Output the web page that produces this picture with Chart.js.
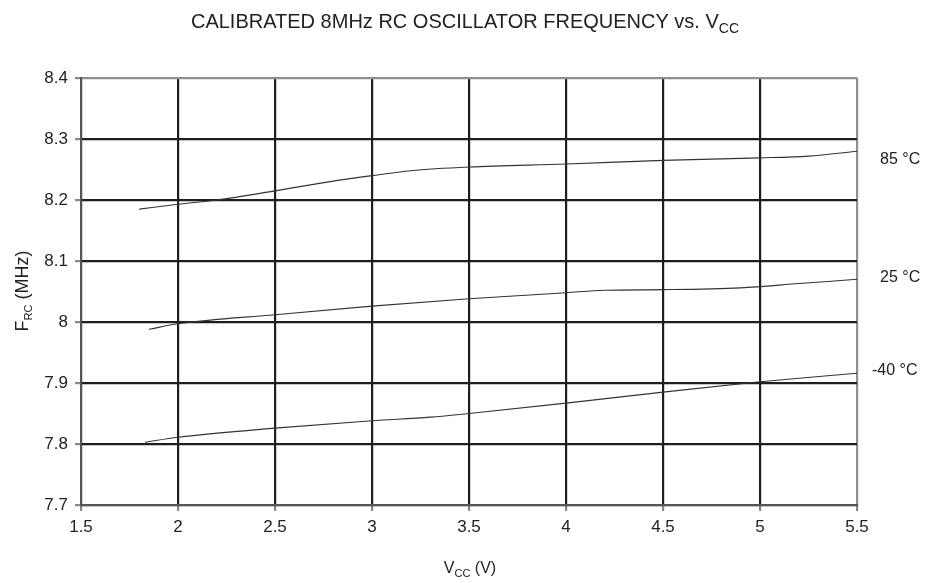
<!DOCTYPE html>
<html><head><meta charset="utf-8">
<script src="https://cdn.jsdelivr.net/npm/chart.js@4.4.1/dist/chart.umd.min.js"></script>
<style>html,body{margin:0;padding:0;background:#fff}#wrap{width:926px;height:583px;position:relative}</style>
</head><body><div id="wrap"><canvas id="c" width="926" height="583"></canvas></div>
<script>
const vccX85 = [1.8, 2.0, 2.2, 2.5, 2.8, 3.0, 3.2, 3.5, 4.0, 4.5, 5.0, 5.25, 5.5];
const f85   = [8.185, 8.193, 8.200, 8.215, 8.231, 8.240, 8.248, 8.254, 8.259, 8.265, 8.269, 8.272, 8.280];
const vccX25 = [1.85, 2.0, 2.5, 3.0, 3.5, 4.0, 4.2, 4.5, 4.9, 5.2, 5.5];
const f25   = [7.988, 7.997, 8.012, 8.026, 8.038, 8.048, 8.052, 8.053, 8.056, 8.063, 8.070];
const vccXm40 = [1.83, 2.0, 2.5, 3.0, 3.3, 3.5, 4.0, 4.5, 5.0, 5.5];
const fm40  = [7.803, 7.811, 7.826, 7.838, 7.844, 7.850, 7.867, 7.885, 7.902, 7.916];
const seriesNames = ['85 °C', '25 °C', '-40 °C'];
const seriesLabelY = [8.266, 8.072, 7.920];
const xTicks = [1.5, 2, 2.5, 3, 3.5, 4, 4.5, 5, 5.5];
const yTicks = [7.7, 7.8, 7.9, 8.0, 8.1, 8.2, 8.3, 8.4];

const FONT = '"Liberation Sans", Arial, sans-serif';
function pts(xs, ys){ return xs.map((x,i)=>({x:x,y:ys[i]})); }

const overlay = {
  id:'overlay',
  afterDraw(chart){
    const c = chart.ctx, y = chart.scales.y;
    c.save();
    c.fillStyle = '#222';
    const drawSub = (main, sub, tail, cx, cy, size, subSize, subDrop) => {
      c.font = size+'px '+FONT;
      const w1 = c.measureText(main).width;
      c.font = subSize+'px '+FONT;
      const w2 = c.measureText(sub).width;
      c.font = size+'px '+FONT;
      const w3 = c.measureText(tail).width;
      let x0 = cx - (w1+w2+w3)/2;
      c.textBaseline='alphabetic'; c.textAlign='left';
      c.font = size+'px '+FONT; c.fillText(main, x0, cy);
      c.font = subSize+'px '+FONT; c.fillText(sub, x0+w1, cy+subDrop);
      c.font = size+'px '+FONT; c.fillText(tail, x0+w1+w2, cy);
    };
    drawSub('CALIBRATED 8MHz RC OSCILLATOR FREQUENCY vs. V', 'CC', '', 465, 28, 20, 14, 5);
    drawSub('V', 'CC', ' (V)', 470, 573, 16, 11, 4);
    c.save();
    c.translate(28, 291);
    c.rotate(-Math.PI/2);
    drawSub('F', 'RC', ' (MHz)', 0, 0, 18, 11, 4);
    c.restore();
    c.font = '16px '+FONT; c.textAlign='left'; c.textBaseline='middle';
    const lx = [880, 880, 872];
    seriesNames.forEach((n,i)=>{ c.fillText(n, lx[i], y.getPixelForValue(seriesLabelY[i])); });
    c.restore();
  }
};

const lineStyle = {borderColor:'#333', borderWidth:1.1, pointRadius:0, fill:false, cubicInterpolationMode:'monotone', showLine:true};

new Chart(document.getElementById('c'), {
  type:'scatter',
  data:{datasets:[
    Object.assign({label:seriesNames[0], data:pts(vccX85,f85)}, lineStyle),
    Object.assign({label:seriesNames[1], data:pts(vccX25,f25)}, lineStyle),
    Object.assign({label:seriesNames[2], data:pts(vccXm40,fm40)}, lineStyle)
  ]},
  options:{
    responsive:false, animation:false, devicePixelRatio:1,
    layout:{padding:{top:78, right:69, left:0, bottom:0}},
    plugins:{legend:{display:false}, tooltip:{enabled:false}, title:{display:false}},
    scales:{
      x:{type:'linear', min:1.5, max:5.5,
        afterBuildTicks(s){ s.ticks = xTicks.map(v=>({value:v})); },
        afterFit(s){ s.height = 78; },
        ticks:{color:'#222', font:{family:FONT, size:17}, padding:6, maxRotation:0,
          callback:v=>String(v)},
        grid:{color:(ctx)=> (ctx.tick && ctx.tick.value===5.5) ? '#8f8f8f' : '#1e1e1e',
          lineWidth:2.2, tickLength:6, tickColor:'#888', drawTicks:true},
        border:{color:'#555', width:2}
      },
      y:{type:'linear', min:7.7, max:8.4,
        afterBuildTicks(s){ s.ticks = yTicks.map(v=>({value:v})); },
        afterFit(s){ s.width = 81; },
        ticks:{color:'#222', font:{family:FONT, size:17}, padding:7,
          callback:v=> (Math.abs(v-8)<1e-9 ? '8' : v.toFixed(1))},
        grid:{color:(ctx)=> (ctx.tick && Math.abs(ctx.tick.value-8.4)<1e-9) ? '#8f8f8f' : '#1e1e1e',
          lineWidth:2.2, tickLength:6, tickColor:'#888', drawTicks:true},
        border:{color:'#555', width:2}
      }
    }
  },
  plugins:[overlay]
});
</script></body></html>
